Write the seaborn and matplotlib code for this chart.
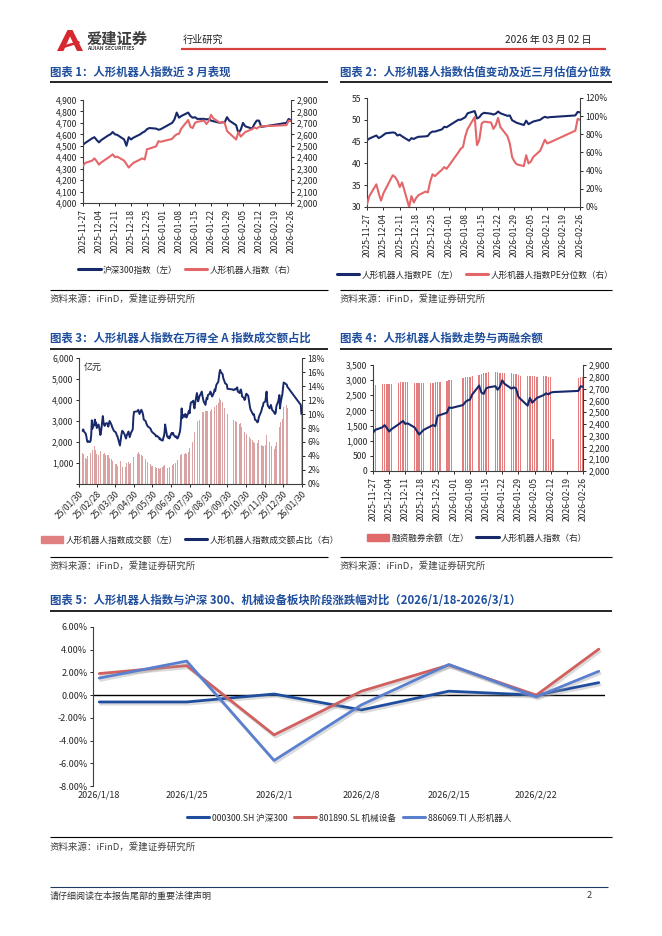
import pandas as pd
import matplotlib
matplotlib.use("Agg")
import matplotlib.pyplot as plt
import matplotlib.patheffects as pe
from matplotlib.patches import Patch, Polygon
from matplotlib.lines import Line2D
import seaborn as sns

# ---------------- data ----------------
# charts 1, 2, 4 share the same trading days (2025-11-27 .. 2026-02-26)
trade_days = [
    "2025-11-27", "2025-11-28",
    "2025-12-01", "2025-12-02", "2025-12-03", "2025-12-04", "2025-12-05",
    "2025-12-08", "2025-12-09", "2025-12-10", "2025-12-11", "2025-12-12",
    "2025-12-15", "2025-12-16", "2025-12-17", "2025-12-18", "2025-12-19",
    "2025-12-22", "2025-12-23", "2025-12-24", "2025-12-25", "2025-12-26",
    "2025-12-29", "2025-12-30", "2025-12-31",
    "2026-01-05", "2026-01-06", "2026-01-07", "2026-01-08", "2026-01-09",
    "2026-01-12", "2026-01-13", "2026-01-14", "2026-01-15", "2026-01-16",
    "2026-01-19", "2026-01-20", "2026-01-21", "2026-01-22", "2026-01-23",
    "2026-01-26", "2026-01-27", "2026-01-28", "2026-01-29", "2026-01-30",
    "2026-02-02", "2026-02-03", "2026-02-04", "2026-02-05", "2026-02-06",
    "2026-02-09", "2026-02-10", "2026-02-11", "2026-02-12", "2026-02-13",
    "2026-02-24", "2026-02-25", "2026-02-26",
]

hs300 = [
    4510, 4525,
    4565, 4575, 4550, 4530, 4550,
    4590, 4600, 4620, 4600, 4595,
    4555, 4500, 4575, 4555, 4570,
    4600, 4615, 4625, 4645, 4655,
    4650, 4640, 4645,
    4700, 4730, 4790, 4745, 4760,
    4790, 4760, 4745, 4750, 4735,
    4735, 4730, 4735, 4720, 4715,
    4700, 4705, 4705, 4750, 4720,
    4680, 4610, 4640, 4700, 4670,
    4650, 4690, 4720, 4720, 4665,
    4700, 4735, 4720,
]

robot_idx = [
    2325, 2350,
    2370, 2390, 2365, 2335, 2355,
    2395, 2410, 2425, 2400, 2405,
    2370, 2340, 2310, 2330, 2350,
    2380, 2390, 2380, 2470, 2475,
    2495, 2540, 2535,
    2560, 2585, 2600, 2605, 2650,
    2725, 2665, 2655, 2700, 2710,
    2720, 2690, 2715, 2770, 2740,
    2700, 2710, 2700, 2630, 2610,
    2555, 2620, 2580, 2600, 2620,
    2645, 2660, 2650, 2665, 2670,
    2680, 2720, 2715,
]

robot_pe = [
    45.3, 45.7,
    46.4, 45.8, 46.1, 46.5, 46.9,
    47.1, 47.0, 46.4, 46.6, 46.2,
    45.2, 45.8, 45.6, 45.9, 46.1,
    46.2, 46.3, 47.0, 47.3, 47.3,
    47.8, 48.4, 48.3,
    50.0, 50.0, 50.3, 50.6, 51.5,
    52.0, 50.3, 50.6, 51.3, 51.6,
    51.4, 51.2, 51.4, 51.9, 51.5,
    50.9, 51.0, 49.9, 49.6, 49.3,
    48.8, 49.8, 49.0, 49.3, 49.6,
    50.0, 50.4, 50.7, 50.5, 50.6,
    51.0, 51.8, 51.7,
]

pe_pct = [
    3, 12,
    25, 15, 7, 15, 20,
    35, 33, 29, 22, 27,
    0, 12, 5, 10, 13,
    17, 16, 28, 36, 34,
    41, 44, 42,
    60, 64, 66, 78, 86,
    99, 68, 74, 92, 94,
    93, 86, 90, 98, 88,
    78, 70, 55, 50, 47,
    45, 57, 48, 50, 55,
    62, 68, 74, 70, 71,
    84, 97, 96,
]

margin_bal = [
    2840, 2850,
    2870, 2870, 2875, 2870, 2880,
    2920, 2940, 2950, 2945, 2930,
    2910, 2900, 2895, 2890, 2900,
    2910, 2920, 2930, 2940, 2950,
    2970, 2990, 3010,
    3060, 3090, 3110, 3120, 3130,
    3170, 3200, 3220, 3230, 3260,
    3270, 3260, 3250, 3240, 3230,
    3220, 3210, 3190, 3170, 3150,
    3140, 3150, 3140, 3130, 3120,
    3130, 3130, 3120, 3110, 1050,
    3080, 3100, 3120,
]

# chart 3: one year of daily turnover (亿元) and share of Wind All-A turnover (%)
c3_holidays = ["2025-02-03", "2025-02-04", "2025-04-04", "2025-05-01", "2025-05-02",
               "2025-05-05", "2025-06-02", "2025-10-01", "2025-10-02", "2025-10-03",
               "2025-10-06", "2025-10-07", "2025-10-08"]
c3_jan_days = ["2026-01-05", "2026-01-06", "2026-01-28", "2026-01-29"]

turnover = [
    # Feb (from 02-05)
    1500, 1450, 1380, 1250, 1200, 1300, 1350, 1420, 1400, 1500, 1550, 1680, 1620, 1810, 1750, 1600, 1520, 1450,
    # Mar
    1400, 1350, 1500, 1550, 1590, 1480, 1420, 1520, 1460, 1380, 1450, 1400, 1370, 1300, 1250, 1200, 1150, 1100, 1050, 1000, 970,
    # Apr
    950, 900, 880, 1200, 1100, 1000, 900, 810, 760, 730, 800, 900, 1000, 1050, 980, 950, 1000, 1100, 1200, 1300, 1370,
    # May
    1450, 1520, 1480, 1450, 1400, 1380, 1350, 1300, 1250, 1200, 1150, 1100, 1050, 1000, 980, 950, 900, 880, 850,
    # Jun
    850, 820, 800, 780, 760, 740, 730, 760, 800, 820, 850, 870, 890, 850, 800, 780, 760, 800, 830, 860,
    # Jul
    880, 900, 920, 950, 1000, 1050, 1100, 1150, 1200, 1300, 1400, 1520, 1450, 1370, 1400, 1450, 1500, 1480, 1450, 1520, 1600, 1700, 1850,
    # Aug
    2080, 2000, 2150, 2300, 2500, 2630, 2800, 3000, 3190, 3100, 3050, 3200, 3300, 3430, 3380, 3450, 3500, 3420, 3480, 3500, 3450,
    # Sep
    3450, 3500, 3480, 3550, 3520, 3600, 3650, 3670, 3600, 3750, 3850, 3950, 4100, 4220, 4000, 3900, 3800, 3700, 3600, 3550, 3450, 3350,
    # Oct
    3110, 3050, 3000, 3100, 2950, 2900, 2870, 2850, 2900, 2800, 2700, 2630, 2550, 2500, 2450, 2420, 2400,
    # Nov
    2350, 2300, 2250, 2200, 2150, 2100, 2050, 2000, 1950, 1920, 1900, 1950, 2000, 2080, 2000, 1900, 1850, 1800, 1760, 1800,
    # Dec
    1850, 1950, 2320, 2200, 2100, 2000, 1900, 1850, 1800, 1750, 1700, 1680, 1720, 1800, 2000, 2300, 2560, 2700, 2800, 2950, 3110, 3400, 3670,
]
turnover_jan = [3750, 3600, 3000, 3270]

share = [
    # Feb
    7.6, 7.8, 7.5, 7.2, 6.8, 6.3, 6.0, 6.1, 6.0, 6.2, 7.0, 9.1, 7.9, 8.6, 9.2, 8.4, 8.8, 8.0,
    # Mar
    8.5, 8.1, 7.6, 7.0, 7.4, 9.7, 8.9, 8.5, 8.3, 8.6, 8.7, 8.4, 8.2, 8.6, 9.0, 8.5, 8.2, 8.0, 7.8, 7.6, 7.4,
    # Apr
    7.2, 6.9, 6.8, 5.5, 6.2, 6.8, 7.3, 7.6, 7.2, 7.0, 6.7, 6.5, 6.9, 7.5, 7.1, 6.7, 7.0, 7.3, 7.8, 9.5, 10.3,
    # May
    10.4, 10.6, 10.3, 10.0, 10.6, 10.4, 10.2, 9.8, 9.2, 9.0, 8.7, 8.5, 8.3, 8.2, 8.0, 7.9, 7.7, 7.5, 7.4,
    # Jun
    7.1, 7.0, 6.8, 6.9, 6.7, 6.6, 6.4, 6.5, 6.3, 6.2, 6.6, 6.8, 7.4, 8.5, 6.9, 6.7, 6.6, 6.8, 6.5, 7.2,
    # Jul
    7.3, 7.1, 7.3, 7.0, 6.7, 6.8, 6.6, 6.5, 6.6, 7.4, 8.0, 9.2, 10.8, 9.4, 9.9, 9.6, 10.0, 9.7, 9.5, 10.2, 10.5, 10.1, 11.0,
    # Aug
    11.6, 11.8, 11.9, 11.2, 10.8, 11.5, 13.0, 12.4, 11.8, 12.1, 12.5, 13.0, 13.2, 12.6, 12.2, 11.8, 11.3, 11.9, 12.3, 12.1, 12.7,
    # Sep
    12.9, 13.2, 13.0, 12.7, 12.5, 13.1, 13.5, 13.3, 13.8, 14.2, 14.6, 15.3, 15.9, 16.3, 16.0, 15.7, 15.2, 14.9, 14.7, 14.4, 14.2, 13.6,
    # Oct
    13.5, 13.4, 13.6, 13.5, 13.7, 13.8, 13.2, 13.0, 13.4, 13.5, 13.1, 12.5, 12.3, 12.0, 12.2, 12.7, 12.9,
    # Nov
    12.6, 12.0, 11.3, 10.9, 10.6, 10.1, 9.9, 10.0, 9.7, 9.2, 9.0, 8.8, 8.9, 9.4, 9.7, 10.3, 10.6, 11.0, 11.1, 11.6,
    # Dec
    11.8, 12.5, 13.2, 11.8, 11.2, 10.8, 11.0, 11.3, 11.0, 10.6, 10.3, 10.1, 10.0, 10.2, 11.1, 11.8, 12.2, 12.7, 10.8, 11.6, 12.9, 13.8, 14.5,
]
share_jan = [14.2, 13.9, 11.3, 10.0]

c3_tick_dates = ["2025-01-30", "2025-02-28", "2025-03-30", "2025-04-30", "2025-05-30",
                 "2025-06-30", "2025-07-30", "2025-08-30", "2025-09-30", "2025-10-30",
                 "2025-11-30", "2025-12-30", "2026-01-30"]

# chart 5: weekly change (%)
week_dates = ["2026-01-18", "2026-01-25", "2026-02-01", "2026-02-08",
              "2026-02-15", "2026-02-22", "2026-02-27"]
hs300_chg = [-0.6, -0.6, 0.1, -1.3, 0.35, 0.0, 1.1]
mach_chg = [1.9, 2.6, -3.5, 0.35, 2.65, 0.0, 4.05]
robot_chg = [1.5, 3.0, -5.75, -0.85, 2.7, -0.15, 2.1]

NAVY = "#17296a"
RED = "#e4666a"
BLUE_TITLE = "#1f4e9c"
C_HS, C_MACH, C_ROBOT = "#1f4e9f", "#d0605e", "#5a7fcf"

# ---------------- page ----------------
sns.set_theme(style="ticks")
plt.rcParams["font.family"] = ["Noto Sans CJK SC", "DejaVu Sans"]
plt.rcParams["axes.unicode_minus"] = False

W, H = 662, 936
fig = plt.figure(figsize=(W / 100, H / 100), dpi=100)
fig.patch.set_facecolor("white")
page = fig.add_axes([0, 0, 1, 1])
page.set_xlim(0, W)
page.set_ylim(H, 0)
page.axis("off")


def box(l, t, r, b):
    a = fig.add_axes([l / W, 1 - b / H, (r - l) / W, (b - t) / H])
    a.set_facecolor("none")
    return a


def dress(ax, left=True, right=False, bottom=True):
    for s in ax.spines.values():
        s.set_color("#404040")
        s.set_linewidth(0.8)
    ax.spines["top"].set_visible(False)
    ax.spines["left"].set_visible(left)
    ax.spines["right"].set_visible(right)
    ax.spines["bottom"].set_visible(bottom)
    ax.tick_params(length=2.5, width=0.7, labelsize=6.2, colors="#262626", pad=1.5)
    ax.set_xlabel("")
    ax.set_ylabel("")
    ax.grid(False)


def hline(y, x0, x1, color="black", lw=1.0):
    page.plot([x0, x1], [y, y], color=color, lw=lw, solid_capstyle="butt")


def title(x, y, s):
    page.text(x, y, s, fontsize=8.2, fontweight="bold", color=BLUE_TITLE, va="center")


def source(x, y):
    page.text(x, y, "资料来源：iFinD，爱建证券研究所", fontsize=6.8, color="#404040", va="center")


def legend(handles, labels, cx, cy, lw=2.2):
    leg = fig.legend(handles, labels, loc="center", bbox_to_anchor=(cx / W, 1 - cy / H),
                     ncol=len(labels), frameon=False, fontsize=6.2, handlelength=2.6,
                     handletextpad=0.3, columnspacing=0.8, borderaxespad=0)
    for ln in leg.get_lines():
        ln.set_linewidth(lw)
    for t in leg.get_texts():
        t.set_color("#262626")
    return leg


# header
page.add_patch(Polygon([(57, 51), (67.5, 30), (72.5, 30), (83, 51), (77, 51), (70, 36.5), (63.5, 51)],
                       closed=True, color="#d7282f", lw=0))
page.add_patch(Polygon([(61, 46), (79, 41), (80, 43), (62.5, 48.5)], closed=True, color="#d7282f", lw=0))
page.text(87, 38.5, "爱建证券", fontsize=11, fontweight="bold", color="#3d3d3d", va="center")
page.text(87.5, 48.5, "AIJIAN SECURITIES", fontsize=3.6, fontweight="bold", color="#3d3d3d", va="center")
page.text(183, 40, "行业研究", fontsize=7.3, color="#222222", va="center")
page.text(592, 40, "2026 年 03 月 02 日", fontsize=7.3, color="#222222", va="center", ha="right")
hline(48.5, 181, 606, color="#d9413f", lw=1.6)

# footer
hline(887, 50, 608, color="#1f3864", lw=0.8)
page.text(50, 896, "请仔细阅读在本报告尾部的重要法律声明", fontsize=6.5, color="#333333", va="center")
page.text(592, 896, "2", fontsize=6.5, color="#333333", va="center", ha="right")

# titles, rules, sources
title(50, 72, "图表 1：人形机器人指数近 3 月表现")
title(340, 72, "图表 2：人形机器人指数估值变动及近三月估值分位数")
hline(82, 50, 328, lw=1.2)
hline(82, 340, 612, lw=1.2)
hline(290, 50, 328, lw=0.8)
hline(290, 340, 612, lw=0.8)
source(50, 299)
source(340, 299)

title(50, 338, "图表 3：人形机器人指数在万得全 A 指数成交额占比")
title(340, 338, "图表 4：人形机器人指数走势与两融余额")
hline(349, 50, 328, lw=1.2)
hline(349, 340, 612, lw=1.2)
hline(557, 50, 328, lw=0.8)
hline(557, 340, 612, lw=0.8)
source(50, 566)
source(340, 566)

title(50, 601, "图表 5：人形机器人指数与沪深 300、机械设备板块阶段涨跌幅对比（2026/1/18-2026/3/1）")
hline(611, 50, 612, lw=1.2)
hline(837, 50, 612, lw=0.8)
source(50, 847)

# shared x for charts 1, 2, 4
t0 = pd.Timestamp(trade_days[0])
x_tr = [(pd.Timestamp(d) - t0).days for d in trade_days]
tick_days = list(range(0, 92, 7))
tick_lbls = [(t0 + pd.Timedelta(days=k)).strftime("%Y-%m-%d") for k in tick_days]


def date_axis(ax):
    ax.set_xlim(0, 91)
    ax.set_xticks(tick_days)
    ax.set_xticklabels(tick_lbls, rotation=90)


# ---------------- chart 1 ----------------
ax1 = box(83, 100, 291, 203)
sns.lineplot(x=x_tr, y=hs300, ax=ax1, color=NAVY, linewidth=1.5)
ax1.set_ylim(4000, 4900)
ax1.set_yticks(range(4000, 4901, 100))
ax1.set_yticklabels([f"{v:,}" for v in range(4000, 4901, 100)])
date_axis(ax1)
ax1b = ax1.twinx()
sns.lineplot(x=x_tr, y=robot_idx, ax=ax1b, color=RED, linewidth=1.5)
ax1b.set_ylim(2000, 2900)
ax1b.set_yticks(range(2000, 2901, 100))
ax1b.set_yticklabels([f"{v:,}" for v in range(2000, 2901, 100)])
dress(ax1)
dress(ax1b, left=False, right=True, bottom=False)
legend([ax1.lines[0], ax1b.lines[0]], ["沪深300指数（左）", "人形机器人指数（右）"], 187, 270)

# ---------------- chart 2 ----------------
ax2 = box(367, 98, 580, 207)
sns.lineplot(x=x_tr, y=robot_pe, ax=ax2, color=NAVY, linewidth=1.5)
ax2.set_ylim(30, 55)
ax2.set_yticks(range(30, 56, 5))
date_axis(ax2)
ax2b = ax2.twinx()
sns.lineplot(x=x_tr, y=pe_pct, ax=ax2b, color=RED, linewidth=1.5)
ax2b.set_ylim(0, 120)
ax2b.set_yticks(range(0, 121, 20))
ax2b.set_yticklabels([f"{v}%" for v in range(0, 121, 20)])
dress(ax2)
dress(ax2b, left=False, right=True, bottom=False)
legend([ax2.lines[0], ax2b.lines[0]], ["人形机器人指数PE（左）", "人形机器人指数PE分位数（右）"], 475, 275)

# ---------------- chart 3 ----------------
c3_base = pd.Timestamp(c3_tick_dates[0])
days25 = [d for d in pd.bdate_range("2025-02-03", "2025-12-31")
          if d.strftime("%Y-%m-%d") not in c3_holidays]
days3 = days25 + [pd.Timestamp(d) for d in c3_jan_days]
turn3 = turnover + turnover_jan
share3 = share + share_jan
n3 = min(len(days3), len(turn3), len(share3))
x3 = [(d - c3_base).days for d in days3[:n3]]

ax3 = box(79, 358, 302, 484)
ax3.bar(x3, turn3[:n3], width=0.8, color="#d9a3a3", linewidth=0)
ax3.set_ylim(0, 6000)
ax3.set_yticks(range(0, 6001, 1000))
ax3.set_yticklabels([""] + [f"{v:,}" for v in range(1000, 6001, 1000)])
c3_ticks = [(pd.Timestamp(d) - c3_base).days for d in c3_tick_dates]
ax3.set_xlim(0, c3_ticks[-1])
ax3.set_xticks(c3_ticks)
ax3.set_xticklabels([pd.Timestamp(d).strftime("%y/%m/%d") for d in c3_tick_dates],
                    rotation=45, ha="right", rotation_mode="anchor")
ax3b = ax3.twinx()
sns.lineplot(x=x3, y=share3[:n3], ax=ax3b, color=NAVY, linewidth=1.4)
ax3b.set_ylim(0, 18)
ax3b.set_yticks(range(0, 19, 2))
ax3b.set_yticklabels([f"{v}%" for v in range(0, 19, 2)])
dress(ax3)
dress(ax3b, left=False, right=True, bottom=False)
page.text(84, 367, "亿元", fontsize=6.5, color="#262626", va="center")
legend([Patch(color="#e08080"), ax3b.lines[0]],
       ["人形机器人指数成交额（左）", "人形机器人指数成交额占比（右）"], 190, 540)

# ---------------- chart 4 ----------------
ax4 = box(373, 365, 583, 471)
ax4.bar(x_tr, margin_bal, width=0.6, color="#e47e7e", linewidth=0)
ax4.set_ylim(0, 3500)
ax4.set_yticks(range(0, 3501, 500))
ax4.set_yticklabels([f"{v:,}" for v in range(0, 3501, 500)])
date_axis(ax4)
ax4b = ax4.twinx()
sns.lineplot(x=x_tr, y=robot_idx, ax=ax4b, color=NAVY, linewidth=1.5)
ax4b.set_ylim(2000, 2900)
ax4b.set_yticks(range(2000, 2901, 100))
ax4b.set_yticklabels([f"{v:,}" for v in range(2000, 2901, 100)])
dress(ax4)
dress(ax4b, left=False, right=True, bottom=False)
legend([Patch(color="#e06a6a"), ax4b.lines[0]], ["融资融券余额（左）", "人形机器人指数（右）"], 477, 538)

# ---------------- chart 5 ----------------
w0 = pd.Timestamp(week_dates[0])
x5 = [(pd.Timestamp(d) - w0).days for d in week_dates]
ax5 = box(93, 627, 605, 786)
ax5.axhline(0, color="black", lw=1.0, zorder=1)
shadow = [pe.SimpleLineShadow(offset=(1.0, -1.6), shadow_color="#9a9a9a", alpha=0.35), pe.Normal()]
sns.lineplot(x=x5, y=hs300_chg, ax=ax5, color=C_HS, linewidth=2.0, path_effects=shadow)
sns.lineplot(x=x5, y=mach_chg, ax=ax5, color=C_MACH, linewidth=2.0, path_effects=shadow)
sns.lineplot(x=x5, y=robot_chg, ax=ax5, color=C_ROBOT, linewidth=2.0, path_effects=shadow)
ax5.set_xlim(-0.5, 40.5)
ax5.set_ylim(-8, 6)
ax5.set_yticks(range(-8, 7, 2))
ax5.set_yticklabels([f"{v:.2f}%" for v in range(-8, 7, 2)])
ax5.set_xticks(x5[:6])
ax5.set_xticklabels([f"{d.year}/{d.month}/{d.day}" for d in pd.to_datetime(week_dates[:6])])
dress(ax5, bottom=False)
ax5.tick_params(axis="x", length=0, pad=3, labelsize=6.5)
ax5.tick_params(axis="y", labelsize=6.5)
legend([Line2D([], [], color=c) for c in (C_HS, C_MACH, C_ROBOT)],
       ["000300.SH 沪深300", "801890.SL 机械设备", "886069.TI 人形机器人"], 349, 818)

fig.savefig("out.png", dpi=100, facecolor="white")
